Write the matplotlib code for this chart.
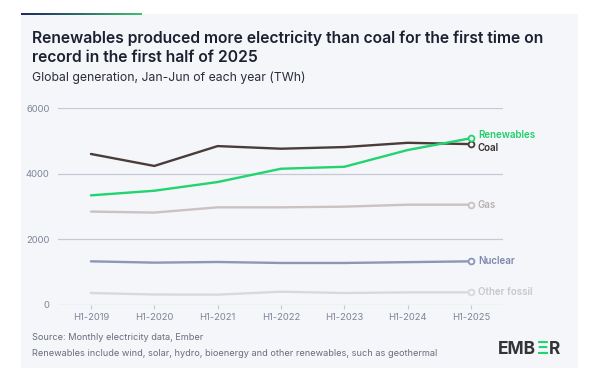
#!/usr/bin/env python3
"""Ember chart: renewables vs coal, global H1 generation 2019-2025."""

import matplotlib
matplotlib.use("Agg")
import matplotlib.pyplot as plt
import numpy as np
from matplotlib.colors import LinearSegmentedColormap
from matplotlib.patches import Rectangle

plt.rcParams["font.family"] = ["Inter", "DejaVu Sans"]

# data (TWh, Jan-Jun of each year)
periods = ["H1-2019", "H1-2020", "H1-2021", "H1-2022", "H1-2023", "H1-2024", "H1-2025"]
coal = [4600, 4235, 4840, 4760, 4810, 4940, 4900]
renewables = [3340, 3480, 3745, 4150, 4210, 4720, 5080]
gas = [2845, 2815, 2975, 2975, 2995, 3055, 3055]
nuclear = [1330, 1290, 1310, 1280, 1280, 1305, 1330]
other_fossil = [365, 320, 315, 405, 365, 385, 385]
y_ticks = [0, 2000, 4000, 6000]

W, H = 600, 384
BG = "#f4f6fa"

fig = plt.figure(figsize=(6.0, 3.84), dpi=100)
fig.patch.set_facecolor("white")


def fx(px):
    return px / W


def fy(py):
    return 1 - py / H


# background panel
fig.patches.append(Rectangle((fx(21), fy(368)), fx(578) - fx(21), fy(14) - fy(368),
                             transform=fig.transFigure, facecolor=BG, edgecolor="none", zorder=-10))

# gradient accent bar
bar_ax = fig.add_axes([fx(21), fy(15.5), fx(142) - fx(21), fy(12.5) - fy(15.5)])
cmap = LinearSegmentedColormap.from_list("accent", ["#1e2a5e", "#2f6e6a", "#3dc46c"])
bar_ax.imshow(np.linspace(0, 1, 200).reshape(1, -1), aspect="auto", cmap=cmap)
bar_ax.axis("off")

# titles
fig.text(fx(32), fy(38), "Renewables produced more electricity than coal for the first time on",
         fontsize=11.25, fontweight="semibold", color="#1c2130", va="center", ha="left")
fig.text(fx(32), fy(57), "record in the first half of 2025",
         fontsize=11.25, fontweight="semibold", color="#1c2130", va="center", ha="left")
fig.text(fx(32), fy(78), "Global generation, Jan-Jun of each year (TWh)",
         fontsize=8.8, color="#2a2e3a", va="center", ha="left")

# chart
ax = fig.add_axes([fx(58), fy(305), fx(503) - fx(58), fy(108) - fy(305)])
ax.set_facecolor("none")
x = np.arange(len(periods))

series = [
    ("Other fossil", other_fossil, "#d9d9dc", "#c8c8cc"),
    ("Nuclear", nuclear, "#8c96b6", "#7d88ab"),
    ("Gas", gas, "#cbc2c2", "#b9b0b0"),
    ("Coal", coal, "#4b3b39", "#3a2d2b"),
    ("Renewables", renewables, "#20d46e", "#1fcf6a"),
]
label_offsets = {"Renewables": 2, "Coal": -3, "Gas": 0, "Nuclear": 0, "Other fossil": 0}

for name, values, color, text_color in series:
    ax.plot(x, values, color=color, linewidth=1.7, zorder=3, solid_capstyle="round")
    ax.plot(x[-1], values[-1], marker="o", markersize=4.2, markerfacecolor=BG,
            markeredgecolor=color, markeredgewidth=1.3, zorder=4, clip_on=False)
    ax.annotate(name, (x[-1], values[-1]), xytext=(5, label_offsets[name]),
                textcoords="offset points", fontsize=7.0, fontweight="semibold",
                color=text_color, va="center", ha="left", annotation_clip=False)

ax.set_xlim(-0.52, 6.505)
ax.set_ylim(0, 6000)
ax.set_yticks(y_ticks)
ax.set_yticklabels([str(v) for v in y_ticks])
ax.set_xticks(x)
ax.set_xticklabels(periods)
ax.grid(axis="y", color="#c6c9d3", linewidth=0.9, zorder=1)
for side in ax.spines.values():
    side.set_visible(False)
ax.tick_params(axis="y", length=0, pad=6, labelsize=6.8, labelcolor="#7f8597")
ax.tick_params(axis="x", length=3, width=0.8, color="#c6c9d3", pad=3,
               labelsize=6.8, labelcolor="#7f8597")

# footer
fig.text(fx(32), fy(338), "Source: Monthly electricity data, Ember",
         fontsize=6.6, color="#6a6e7c", va="center", ha="left")
fig.text(fx(32), fy(354),
         "Renewables include wind, solar, hydro, bioenergy and other renewables, such as geothermal",
         fontsize=6.6, color="#6a6e7c", va="center", ha="left")

# logo
renderer = fig.canvas.get_renderer()
pos_x = fx(498)
for part, color in [("EMB", "#333436"), ("Ξ", "#20d46e"), ("R", "#333436")]:
    t = fig.text(pos_x, fy(349), part, fontsize=12.5, fontweight="bold", color=color,
                 va="center", ha="left")
    bb = t.get_window_extent(renderer)
    pos_x += bb.width / W + 0.001

fig.savefig("out.png", dpi=100, facecolor=fig.get_facecolor())
